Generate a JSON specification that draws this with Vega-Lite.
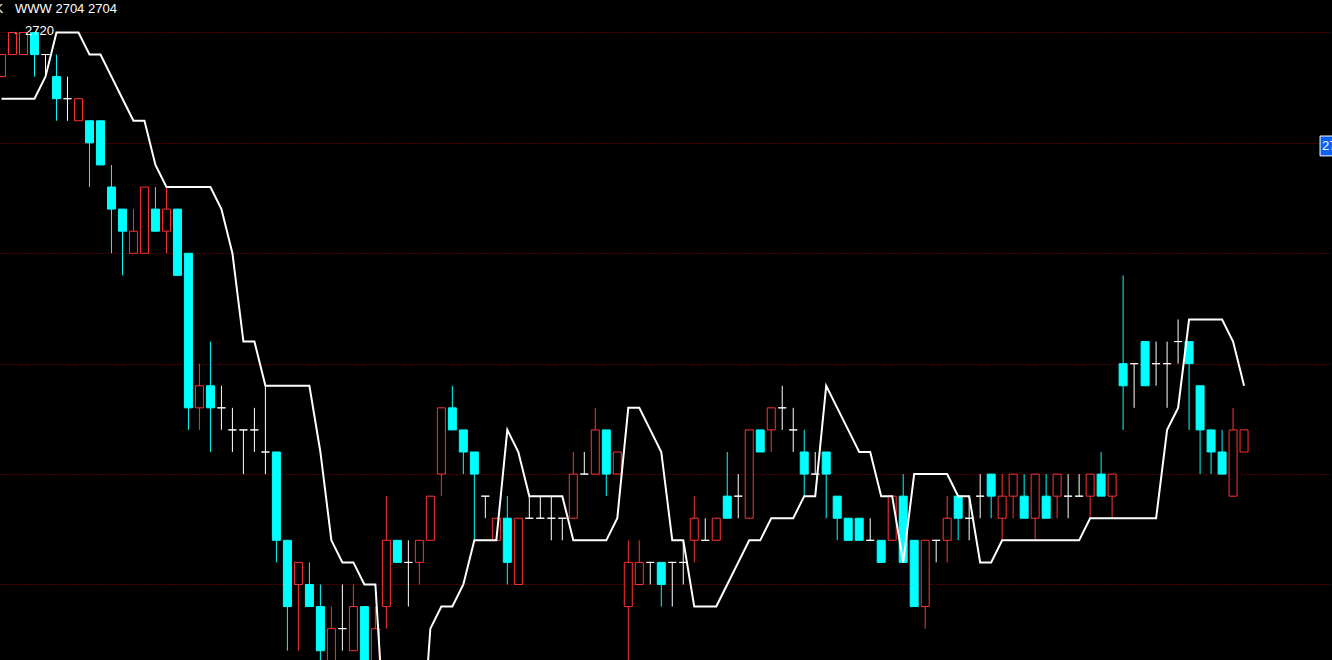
{
  "$schema": "https://vega.github.io/schema/vega-lite/v6.json",
  "width": 1332,
  "height": 660,
  "autosize": {"type": "fit", "contains": "padding"},
  "padding": 0,
  "background": "#000000",
  "config": {"view": {"stroke": null}, "text": {"font": "Liberation Sans"}},
  "datasets": {
    "k": [
      {"i":0,"o":2718,"h":2719,"l":2718,"c":2719,"m":2717},
      {"i":1,"o":2719,"h":2720,"l":2719,"c":2720,"m":2717},
      {"i":2,"o":2719,"h":2720,"l":2719,"c":2720,"m":2717},
      {"i":3,"o":2720,"h":2720,"l":2718,"c":2719,"m":2717},
      {"i":4,"o":2719,"h":2719,"l":2718,"c":2719,"m":2718},
      {"i":5,"o":2718,"h":2719,"l":2716,"c":2717,"m":2720},
      {"i":6,"o":2717,"h":2718,"l":2716,"c":2717,"m":2720},
      {"i":7,"o":2716,"h":2717,"l":2716,"c":2717,"m":2720},
      {"i":8,"o":2716,"h":2716,"l":2713,"c":2715,"m":2719},
      {"i":9,"o":2716,"h":2716,"l":2714,"c":2714,"m":2719},
      {"i":10,"o":2713,"h":2714,"l":2710,"c":2712,"m":2718},
      {"i":11,"o":2712,"h":2712,"l":2709,"c":2711,"m":2717},
      {"i":12,"o":2710,"h":2712,"l":2710,"c":2711,"m":2716},
      {"i":13,"o":2710,"h":2713,"l":2710,"c":2713,"m":2716},
      {"i":14,"o":2712,"h":2713,"l":2711,"c":2711,"m":2714},
      {"i":15,"o":2711,"h":2713,"l":2710,"c":2712,"m":2713},
      {"i":16,"o":2712,"h":2712,"l":2709,"c":2709,"m":2713},
      {"i":17,"o":2710,"h":2710,"l":2702,"c":2703,"m":2713},
      {"i":18,"o":2703,"h":2705,"l":2702,"c":2704,"m":2713},
      {"i":19,"o":2704,"h":2706,"l":2701,"c":2703,"m":2713},
      {"i":20,"o":2703,"h":2704,"l":2702,"c":2703,"m":2712},
      {"i":21,"o":2702,"h":2703,"l":2701,"c":2702,"m":2710},
      {"i":22,"o":2702,"h":2702,"l":2700,"c":2702,"m":2706},
      {"i":23,"o":2702,"h":2703,"l":2701,"c":2702,"m":2706},
      {"i":24,"o":2701,"h":2704,"l":2700,"c":2701,"m":2704},
      {"i":25,"o":2701,"h":2701,"l":2696,"c":2697,"m":2704},
      {"i":26,"o":2697,"h":2697,"l":2692,"c":2694,"m":2704},
      {"i":27,"o":2695,"h":2696,"l":2692,"c":2696,"m":2704},
      {"i":28,"o":2695,"h":2696,"l":2694,"c":2694,"m":2704},
      {"i":29,"o":2694,"h":2695,"l":2691,"c":2692,"m":2701},
      {"i":30,"o":2691,"h":2694,"l":2690,"c":2693,"m":2697},
      {"i":31,"o":2693,"h":2695,"l":2692,"c":2693,"m":2696},
      {"i":32,"o":2692,"h":2695,"l":2692,"c":2694,"m":2696},
      {"i":33,"o":2694,"h":2694,"l":2690,"c":2691,"m":2695},
      {"i":34,"o":2691,"h":2694,"l":2690,"c":2693,"m":2695},
      {"i":35,"o":2694,"h":2699,"l":2693,"c":2697,"m":2687},
      {"i":36,"o":2697,"h":2697,"l":2696,"c":2696,"m":2686},
      {"i":37,"o":2696,"h":2697,"l":2694,"c":2696,"m":2686},
      {"i":38,"o":2696,"h":2697,"l":2695,"c":2697,"m":2686},
      {"i":39,"o":2697,"h":2699,"l":2697,"c":2699,"m":2693},
      {"i":40,"o":2700,"h":2703,"l":2699,"c":2703,"m":2694},
      {"i":41,"o":2703,"h":2704,"l":2702,"c":2702,"m":2694},
      {"i":42,"o":2702,"h":2702,"l":2700,"c":2701,"m":2695},
      {"i":43,"o":2701,"h":2701,"l":2697,"c":2700,"m":2697},
      {"i":44,"o":2699,"h":2699,"l":2698,"c":2699,"m":2697},
      {"i":45,"o":2697,"h":2698,"l":2697,"c":2698,"m":2697},
      {"i":46,"o":2698,"h":2699,"l":2695,"c":2696,"m":2702},
      {"i":47,"o":2695,"h":2698,"l":2695,"c":2698,"m":2701},
      {"i":48,"o":2698,"h":2699,"l":2698,"c":2698,"m":2699},
      {"i":49,"o":2698,"h":2699,"l":2698,"c":2698,"m":2699},
      {"i":50,"o":2698,"h":2699,"l":2697,"c":2698,"m":2699},
      {"i":51,"o":2698,"h":2698,"l":2697,"c":2698,"m":2699},
      {"i":52,"o":2698,"h":2701,"l":2698,"c":2700,"m":2697},
      {"i":53,"o":2700,"h":2701,"l":2700,"c":2700,"m":2697},
      {"i":54,"o":2700,"h":2703,"l":2700,"c":2702,"m":2697},
      {"i":55,"o":2702,"h":2702,"l":2699,"c":2700,"m":2697},
      {"i":56,"o":2700,"h":2701,"l":2700,"c":2701,"m":2698},
      {"i":57,"o":2694,"h":2697,"l":2691,"c":2696,"m":2703},
      {"i":58,"o":2695,"h":2697,"l":2695,"c":2696,"m":2703},
      {"i":59,"o":2696,"h":2696,"l":2695,"c":2696,"m":2702},
      {"i":60,"o":2696,"h":2696,"l":2694,"c":2695,"m":2701},
      {"i":61,"o":2696,"h":2696,"l":2694,"c":2696,"m":2697},
      {"i":62,"o":2696,"h":2697,"l":2695,"c":2696,"m":2697},
      {"i":63,"o":2697,"h":2699,"l":2696,"c":2698,"m":2694},
      {"i":64,"o":2697,"h":2698,"l":2697,"c":2697,"m":2694},
      {"i":65,"o":2697,"h":2698,"l":2697,"c":2698,"m":2694},
      {"i":66,"o":2699,"h":2701,"l":2698,"c":2698,"m":2695},
      {"i":67,"o":2699,"h":2700,"l":2698,"c":2699,"m":2696},
      {"i":68,"o":2698,"h":2702,"l":2698,"c":2702,"m":2697},
      {"i":69,"o":2702,"h":2702,"l":2701,"c":2701,"m":2697},
      {"i":70,"o":2702,"h":2703,"l":2701,"c":2703,"m":2698},
      {"i":71,"o":2703,"h":2704,"l":2702,"c":2703,"m":2698},
      {"i":72,"o":2702,"h":2703,"l":2701,"c":2702,"m":2698},
      {"i":73,"o":2701,"h":2702,"l":2699,"c":2700,"m":2699},
      {"i":74,"o":2700,"h":2701,"l":2700,"c":2700,"m":2699},
      {"i":75,"o":2701,"h":2701,"l":2698,"c":2700,"m":2704},
      {"i":76,"o":2699,"h":2699,"l":2697,"c":2698,"m":2703},
      {"i":77,"o":2698,"h":2698,"l":2697,"c":2697,"m":2702},
      {"i":78,"o":2698,"h":2698,"l":2697,"c":2697,"m":2701},
      {"i":79,"o":2697,"h":2698,"l":2697,"c":2697,"m":2701},
      {"i":80,"o":2697,"h":2697,"l":2696,"c":2696,"m":2699},
      {"i":81,"o":2697,"h":2699,"l":2697,"c":2699,"m":2699},
      {"i":82,"o":2699,"h":2700,"l":2696,"c":2696,"m":2696},
      {"i":83,"o":2697,"h":2697,"l":2694,"c":2694,"m":2700},
      {"i":84,"o":2694,"h":2697,"l":2693,"c":2697,"m":2700},
      {"i":85,"o":2697,"h":2697,"l":2696,"c":2697,"m":2700},
      {"i":86,"o":2697,"h":2699,"l":2696,"c":2698,"m":2700},
      {"i":87,"o":2699,"h":2699,"l":2697,"c":2698,"m":2699},
      {"i":88,"o":2698,"h":2699,"l":2697,"c":2698,"m":2699},
      {"i":89,"o":2699,"h":2700,"l":2698,"c":2699,"m":2696},
      {"i":90,"o":2700,"h":2700,"l":2698,"c":2699,"m":2696},
      {"i":91,"o":2698,"h":2700,"l":2697,"c":2699,"m":2697},
      {"i":92,"o":2699,"h":2700,"l":2698,"c":2700,"m":2697},
      {"i":93,"o":2699,"h":2700,"l":2698,"c":2698,"m":2697},
      {"i":94,"o":2698,"h":2700,"l":2697,"c":2700,"m":2697},
      {"i":95,"o":2699,"h":2700,"l":2698,"c":2698,"m":2697},
      {"i":96,"o":2699,"h":2700,"l":2698,"c":2700,"m":2697},
      {"i":97,"o":2699,"h":2700,"l":2698,"c":2699,"m":2697},
      {"i":98,"o":2699,"h":2700,"l":2699,"c":2699,"m":2697},
      {"i":99,"o":2699,"h":2700,"l":2698,"c":2700,"m":2698},
      {"i":100,"o":2700,"h":2701,"l":2699,"c":2699,"m":2698},
      {"i":101,"o":2699,"h":2700,"l":2698,"c":2700,"m":2698},
      {"i":102,"o":2705,"h":2709,"l":2702,"c":2704,"m":2698},
      {"i":103,"o":2705,"h":2705,"l":2703,"c":2705,"m":2698},
      {"i":104,"o":2706,"h":2706,"l":2704,"c":2704,"m":2698},
      {"i":105,"o":2705,"h":2706,"l":2704,"c":2705,"m":2698},
      {"i":106,"o":2705,"h":2706,"l":2703,"c":2705,"m":2702},
      {"i":107,"o":2706,"h":2707,"l":2705,"c":2706,"m":2703},
      {"i":108,"o":2706,"h":2706,"l":2702,"c":2705,"m":2707},
      {"i":109,"o":2704,"h":2704,"l":2700,"c":2702,"m":2707},
      {"i":110,"o":2702,"h":2702,"l":2700,"c":2701,"m":2707},
      {"i":111,"o":2701,"h":2702,"l":2700,"c":2700,"m":2707},
      {"i":112,"o":2699,"h":2703,"l":2699,"c":2702,"m":2706},
      {"i":113,"o":2701,"h":2702,"l":2701,"c":2702,"m":2704}
    ],
    "labels": [{"t": "WWW 2704 2704"}]
  },
  "layer": [
    {
      "data": {"name": "k"},
      "mark": {"type": "rule", "strokeWidth": 1, "clip": true},
      "encoding": {
        "x": {"field": "i", "type": "quantitative", "scale": {"domain": [-0.1364, 120.996], "nice": false, "zero": false, "padding": 0}, "axis": null},
        "y": {"field": "l", "type": "quantitative", "scale": {"domain": [2691.58, 2721.47], "nice": false, "zero": false, "padding": 0},
              "axis": {"values": [2695, 2700, 2705, 2710, 2715, 2720], "grid": true, "gridColor": "#a00000", "gridDash": [1, 2], "gridWidth": 1, "labels": false, "ticks": false, "domain": false, "title": null}},
        "y2": {"field": "h"},
        "stroke": {"condition": [{"test": "datum.c > datum.o", "value": "#ff3232"}, {"test": "datum.c < datum.o", "value": "#00ffff"}], "value": "#ffffff"}
      }
    },
    {
      "data": {"name": "k"},
      "mark": {"type": "bar", "width": 8, "strokeWidth": 1, "clip": true},
      "encoding": {
        "x": {"field": "i", "type": "quantitative"},
        "y": {"field": "o", "type": "quantitative"},
        "y2": {"field": "c"},
        "fill": {"condition": {"test": "datum.c < datum.o", "value": "#00ffff"}, "value": "#000000"},
        "stroke": {"condition": [{"test": "datum.c > datum.o", "value": "#ff3232"}, {"test": "datum.c < datum.o", "value": "#00ffff"}], "value": "#ffffff"}
      }
    },
    {
      "data": {"name": "k"},
      "mark": {"type": "line", "stroke": "#ffffff", "strokeWidth": 2, "clip": true},
      "encoding": {
        "x": {"field": "i", "type": "quantitative"},
        "y": {"field": "m", "type": "quantitative"}
      }
    },
    {
      "data": {"name": "labels"},
      "mark": {"type": "text", "text": "WWW 2704 2704", "fontSize": 13, "color": "#ffffff", "align": "left", "baseline": "middle", "clip": true},
      "encoding": {
        "x": {"datum": 1.228, "type": "quantitative"},
        "y": {"datum": 2721.08, "type": "quantitative"}
      }
    },
    {
      "data": {"name": "labels"},
      "mark": {"type": "text", "text": "K", "fontSize": 13, "color": "#ffffff", "align": "left", "baseline": "middle", "clip": true},
      "encoding": {
        "x": {"datum": -0.637, "type": "quantitative"},
        "y": {"datum": 2721.08, "type": "quantitative"}
      }
    },
    {
      "data": {"name": "labels"},
      "mark": {"type": "text", "text": "←", "fontSize": 10, "color": "#bbbbbb", "align": "left", "baseline": "middle", "clip": true},
      "encoding": {
        "x": {"datum": 1.0, "type": "quantitative"},
        "y": {"datum": 2720.0, "type": "quantitative"}
      }
    },
    {
      "data": {"name": "labels"},
      "mark": {"type": "text", "text": "2720", "fontSize": 13, "color": "#ffffff", "align": "left", "baseline": "middle", "clip": true},
      "encoding": {
        "x": {"datum": 2.137, "type": "quantitative"},
        "y": {"datum": 2720.05, "type": "quantitative"}
      }
    },
    {
      "data": {"name": "labels"},
      "mark": {"type": "rect", "fill": "#0b62f5", "stroke": "#ffffff", "strokeWidth": 1, "clip": true},
      "encoding": {
        "x": {"datum": 119.91, "type": "quantitative"},
        "x2": {"datum": 121.8},
        "y": {"datum": 2715.31, "type": "quantitative"},
        "y2": {"datum": 2714.41}
      }
    },
    {
      "data": {"name": "labels"},
      "mark": {"type": "text", "text": "2715", "fontSize": 13, "color": "#ffffff", "align": "left", "baseline": "middle", "clip": true},
      "encoding": {
        "x": {"datum": 120.09, "type": "quantitative"},
        "y": {"datum": 2714.86, "type": "quantitative"}
      }
    }
  ]
}
